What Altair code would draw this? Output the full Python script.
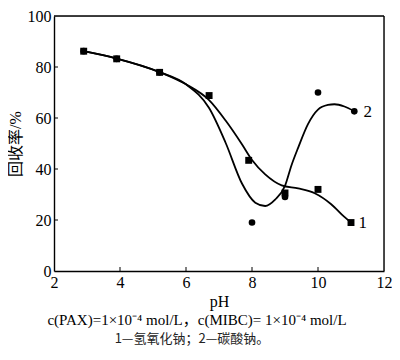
import altair as alt
import pandas as pd

# ---- data ----
ph_ticks = [2, 4, 6, 8, 10, 12]
rec_ticks = [0, 20, 40, 60, 80, 100]

# series 1 (NaOH) markers: squares
s1_ph = [2.9, 3.9, 5.2, 6.7, 7.9, 9.0, 10.0, 11.0]
s1_rec = [86.2, 83.2, 77.9, 68.8, 43.4, 30.6, 32.0, 19.0]
# series 2 (Na2CO3) markers: circles
s2_ph = [2.9, 3.9, 5.2, 8.0, 9.0, 10.0, 11.1]
s2_rec = [86.2, 83.2, 77.9, 19.0, 29.0, 70.0, 62.6]

# fitted curves as drawn
c1_ph = [2.9, 3.9, 5.2, 6.0, 6.7, 7.2, 7.7, 8.0, 8.4, 8.9, 9.4, 9.9, 10.4, 10.8, 11.0]
c1_rec = [86.2, 83.3, 78.0, 73.2, 67.0, 59.0, 49.6, 43.5, 37.9, 33.6, 32.4, 30.5, 26.2, 21.2, 19.0]
c2_ph = [2.9, 3.9, 5.2, 6.0, 6.7, 7.2, 7.7, 8.1, 8.4, 8.7, 9.0, 9.2, 9.4, 9.7, 10.0, 10.3, 10.5, 10.8, 11.1]
c2_rec = [86.2, 83.3, 78.0, 73.2, 63.9, 50.3, 34.2, 26.8, 25.5, 28.0, 33.4, 41.6, 48.4, 57.7, 63.3, 65.1, 65.4, 64.5, 62.6]

curve_labels = ["1", "2"]
label_ph = [11.23, 11.38]
label_rec = [19.0, 62.5]

caption1 = "c(PAX)=1×10⁻⁴ mol/L，c(MIBC)= 1×10⁻⁴ mol/L"
caption2 = "1—氢氧化钠；2—碳酸钠。"

W, H = 330, 255
SERIF = "Liberation Serif, Noto Sans CJK SC"
NUM = "Liberation Serif"

curves = pd.concat([
    pd.DataFrame({"s": "1", "ph": c1_ph, "rec": c1_rec}),
    pd.DataFrame({"s": "2", "ph": c2_ph, "rec": c2_rec}),
])
sq = pd.DataFrame({"ph": s1_ph, "rec": s1_rec})
ci = pd.DataFrame({"ph": s2_ph, "rec": s2_rec})
lab = pd.DataFrame({"t": curve_labels, "ph": label_ph, "rec": label_rec})

xs = alt.Scale(domain=[2, 12], nice=False)
ys = alt.Scale(domain=[0, 100], nice=False)

common = dict(tickSize=0, domain=True, domainColor="#000", domainWidth=1.4, grid=False,
              labelFont=NUM, labelFontSize=16, labelColor="#000",
              labelOverlap=False, labelFlush=False,
              titleFont=SERIF, titleFontSize=16, titleFontWeight="normal",
              titleColor="#000")
xax = alt.Axis(values=ph_ticks, labelPadding=3, titlePadding=3, **common)
yax = alt.Axis(values=rec_ticks, labelPadding=3, titlePadding=4, **common)

X = alt.X("ph:Q", scale=xs, axis=xax, title="pH")
Y = alt.Y("rec:Q", scale=ys, axis=yax, title="回收率/%")

lines = alt.Chart(curves).mark_line(color="#000", strokeWidth=1.8, interpolate="monotone").encode(
    x=X, y=Y, detail="s:N")
circles = alt.Chart(ci).mark_circle(color="#000", size=44, opacity=1).encode(x=X, y=Y)
squares = alt.Chart(sq).mark_square(color="#000", size=48, opacity=1).encode(x=X, y=Y)
labels = alt.Chart(lab).mark_text(font=NUM, fontSize=17, align="left", baseline="middle", color="#000").encode(
    x=X, y=Y, text="t:N")

xt = pd.DataFrame({"ph": ph_ticks[1:-1]})
yt = pd.DataFrame({"rec": rec_ticks[1:-1]})
xticks = alt.Chart(xt).mark_rule(color="#000", strokeWidth=1).encode(
    x=X, y=alt.value(H), y2=alt.value(H - 4))
yticks = alt.Chart(yt).mark_rule(color="#000", strokeWidth=1).encode(
    y=Y, x=alt.value(0), x2=alt.value(4))

# top and right sides of the frame
frame = alt.Chart(pd.DataFrame({"k": [0]})).mark_rule(color="#000", strokeWidth=1.4).encode(
    x=alt.value(0), x2=alt.value(W), y=alt.value(0))
frame_r = alt.Chart(pd.DataFrame({"k": [0]})).mark_rule(color="#000", strokeWidth=1.4).encode(
    x=alt.value(W), y=alt.value(0), y2=alt.value(H))

cap1 = alt.Chart(pd.DataFrame({"t": [caption1]})).mark_text(
    font=SERIF, fontSize=15, align="center", baseline="middle", color="#000").encode(
    text="t:N", x=alt.value(143), y=alt.value(304))
cap2 = alt.Chart(pd.DataFrame({"t": [caption2]})).mark_text(
    font="Noto Sans CJK SC", fontSize=13, align="center", baseline="middle", color="#222").encode(
    text="t:N", x=alt.value(138), y=alt.value(323))

chart = alt.layer(lines, circles, squares, labels, xticks, yticks, frame, frame_r, cap1, cap2).properties(
    width=W, height=H,
    autosize=alt.AutoSizeParams(type="none"),
    padding={"left": 46, "top": 8, "right": 8, "bottom": 75},
).configure_view(stroke=None).configure(background="#fff")

chart.save("out.html", embed_options={"renderer": "svg", "actions": False})
